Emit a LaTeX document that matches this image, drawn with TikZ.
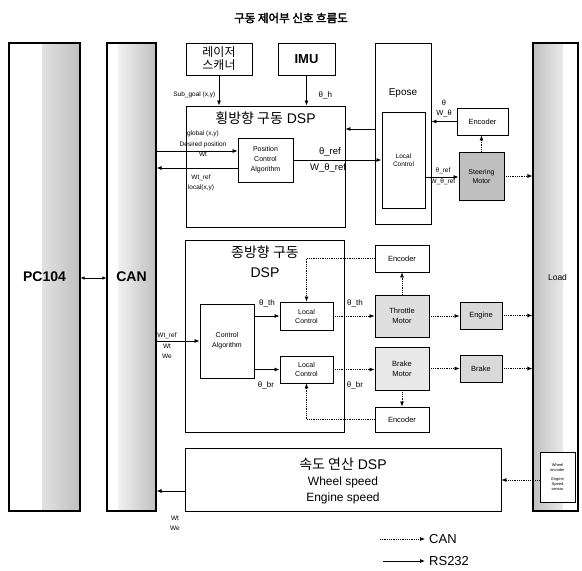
\documentclass[tikz,border=0pt]{standalone}
\usepackage{fontspec}
\setmainfont{Liberation Sans}
\newfontfamily\kr{Noto Sans CJK KR}
\newfontfamily\krb{Noto Sans CJK KR}[FakeBold=2.5]
\usetikzlibrary{arrows.meta,calc}
\begin{document}
\begin{tikzpicture}[x=1pt,y=-1pt,
  box/.style={draw, line width=0.9pt, fill=white, inner sep=1pt, align=center},
  motor/.style={box, fill=gray!30},
  panel/.style={draw, line width=1.1pt, inner sep=0pt, align=center},
  tiny/.style={font=\fontsize{6.5}{8}\selectfont, align=center, inner sep=0.5pt},
  lbl/.style={font=\fontsize{8}{9}\selectfont, align=center, inner sep=0.5pt},
  big/.style={font=\fontsize{14}{16}\selectfont, align=center, inner sep=0pt},
  arr/.style={-{Latex[length=5pt,width=4pt]}, line width=0.8pt},
  canl/.style={arr, densely dotted, line width=0.7pt},
  rshade/.style={path picture={\shade[left color=white,right color=gray!50]
      ([xshift=-38pt]path picture bounding box.north east) rectangle (path picture bounding box.south east);}},
  lshade/.style={path picture={\shade[left color=gray!50,right color=white]
      (path picture bounding box.north west) rectangle ([xshift=30pt]path picture bounding box.south west);}}
]
\fill[white] (0,0) rectangle (582,571);
\useasboundingbox (0,0) rectangle (582,571);

% title
\node[font=\krb\fontsize{11.5}{12}\selectfont] (title) at (291,18) {구동 제어부 신호 흐름도};

% tall panels
\node[panel, rshade, minimum width=71pt, minimum height=468pt, font=\bfseries\fontsize{14}{16}\selectfont] (pc) at (44.5,277) {PC104};
\node[panel, rshade, minimum width=49pt, minimum height=468pt, font=\bfseries\fontsize{14}{16}\selectfont] (can) at (131.5,277) {CAN};
\node[panel, lshade, minimum width=45pt, minimum height=468pt, font=\fontsize{8.5}{10}\selectfont] (load) at (555.5,277) {\hspace*{4pt}Load};

% top sources
\node[box, minimum width=66pt, minimum height=32pt, font=\kr\fontsize{12}{13}\selectfont] (laser) at (219,59) {레이저\\스캐너};
\node[box, minimum width=57pt, minimum height=32pt, font=\bfseries\fontsize{13}{14}\selectfont] (imu) at (306.5,59) {IMU};

% lateral DSP
\node[box, minimum width=159pt, minimum height=121pt] (latdsp) at (265.5,166.5) {};
\node[big] (latT) at (265.5,118) {{\kr 횡방향 구동} DSP};
\node[box, minimum width=55pt, minimum height=44pt, font=\fontsize{7}{10}\selectfont] (pca) at (265.5,160) {Position\\Control\\Algorithm};

% Epose
\node[box, minimum width=56pt, minimum height=181pt] (epose) at (403,133.5) {};
\node[font=\fontsize{10}{11}\selectfont] (eposeT) at (403,93) {Epose};
\node[box, minimum width=43pt, minimum height=96pt, font=\fontsize{6.5}{8}\selectfont] (lcE) at (403.5,160) {Local\\Control};
\node[box, minimum width=51pt, minimum height=27pt, font=\fontsize{7.5}{9}\selectfont] (encA) at (482.5,121.5) {Encoder};
\node[motor, fill=gray!50, minimum width=45pt, minimum height=48pt, font=\fontsize{7}{9}\selectfont] (steer) at (481.5,176) {Steering\\Motor};

% longitudinal DSP
\node[box, minimum width=159pt, minimum height=192pt] (londsp) at (264.5,336) {};
\node[big, font=\fontsize{14}{20}\selectfont] (lonT) at (265,262) {{\kr 종방향 구동}\\DSP};
\node[box, minimum width=54pt, minimum height=74pt, font=\fontsize{7}{10}\selectfont] (ca) at (227,341) {Control\\Algorithm};
\node[box, minimum width=53pt, minimum height=28pt, font=\fontsize{7}{9}\selectfont] (lc1) at (306.5,316) {Local\\Control};
\node[box, minimum width=53pt, minimum height=27pt, font=\fontsize{7}{9}\selectfont] (lc2) at (306.5,369.5) {Local\\Control};
\node[box, minimum width=54pt, minimum height=27pt, font=\fontsize{7.5}{9}\selectfont] (encB) at (402,258.5) {Encoder};
\node[motor, fill=gray!25, minimum width=54pt, minimum height=42pt, font=\fontsize{7.5}{10}\selectfont] (thr) at (402,316) {Throttle\\Motor};
\node[motor, fill=gray!18, minimum width=54pt, minimum height=43pt, font=\fontsize{7.5}{10}\selectfont] (brm) at (402,368.5) {Brake\\Motor};
\node[box, minimum width=54pt, minimum height=25pt, font=\fontsize{7.5}{9}\selectfont] (encC) at (402,419.5) {Encoder};
\node[motor, minimum width=42pt, minimum height=27pt, font=\fontsize{7.5}{9}\selectfont] (eng) at (481,315.5) {Engine};
\node[motor, minimum width=42pt, minimum height=27pt, font=\fontsize{7.5}{9}\selectfont] (brk) at (481,368.5) {Brake};

% speed DSP
\node[box, minimum width=316pt, minimum height=63pt] (spd) at (343,479.5) {};
\node[big] (spdT) at (343,464) {{\kr 속도 연산} DSP};
\node[font=\fontsize{12}{16}\selectfont, align=center, inner sep=0pt] (spdL) at (343,490) {Wheel speed\\Engine speed};
\node[box, minimum width=35pt, minimum height=50pt, font=\fontsize{4}{4.8}\selectfont] (sens) at (557.5,477) {Wheel\\encoder\\[4pt]Engine\\Speed\\sensor};

% y-levels
\coordinate (ya) at (0,151);
\coordinate (yb) at (0,168);
\coordinate (yc) at (0,129);
\coordinate (yd) at (0,177);
\coordinate (ye) at (0,491);
\coordinate (yf) at (0,480);
\coordinate (yg) at (0,278);

% connectors: top
\draw[arr] (laser.south) -- (laser.south |- latdsp.north);
\draw[arr] (imu.south) -- (imu.south |- latdsp.north);
\node[tiny, anchor=east] (lsub) at (216,95) {Sub\_goal (x,y)};
\node[lbl, anchor=west] (lth) at (318,95) {θ\_h};

% lateral
\draw[arr] (can.east |- ya) -- (pca.west |- ya);
\draw[arr] (pca.west |- yb) -- (can.east |- yb);
\node[tiny, font=\fontsize{6.5}{10.5}\selectfont] (lglob) at (203,144) {global (x,y)\\Desired position\\Wt};
\node[tiny, font=\fontsize{6.5}{10.5}\selectfont] (lwtr) at (201,183) {Wt\_ref\\local(x,y)};
\draw[arr, line width=1pt] (pca.east) -- (lcE.west);
\node[lbl, font=\fontsize{9.5}{10}\selectfont] (lthr1) at (330,152) {θ\_ref};
\node[lbl, font=\fontsize{9.5}{10}\selectfont] (lwthr1) at (328,168) {W\_θ\_ref};
\draw[arr] (epose.west |- yc) -- (latdsp.east |- yc);
\draw[arr] (encA.west) -- (encA.west -| epose.east);
\node[lbl, font=\fontsize{7.5}{10}\selectfont] (lthe) at (444,109) {θ\\W\_θ};
\draw[arr] (lcE.east |- yd) -- (steer.west |- yd);
\node[tiny, font=\fontsize{6.5}{11}\selectfont] (lthr2) at (443,176) {θ\_ref\\W\_θ\_ref};
\draw[canl] (steer.east) -- (steer.east -| load.west);
\draw[canl] (steer.north) -- (steer.north |- encA.south);

% longitudinal
\draw[arr] (can.east |- ca.west) -- (ca.west);
\node[tiny, font=\fontsize{6.5}{10.5}\selectfont] (lwt2) at (167,346) {Wt\_ref\\Wt\\We};
\draw[arr] (ca.east |- lc1.west) -- (lc1.west);
\draw[arr] (ca.east |- lc2.west) -- (lc2.west);
\node[lbl] (lth1) at (267,303) {θ\_th};
\node[lbl] (lbr1) at (266,385) {θ\_br};
\draw[canl] (lc1.east) -- (lc1.east -| thr.west);
\draw[canl] (lc2.east) -- (lc2.east -| brm.west);
\node[lbl] (lth2) at (355,303) {θ\_th};
\node[lbl] (lbr2) at (355,385) {θ\_br};
\draw[canl] (thr.north) -- (encB.south);
\draw[canl] (encB.west) -| (lc1.north);
\draw[canl] (brm.south) -- (encC.north);
\draw[canl] (encC.west) -| (lc2.south);
\draw[canl] (thr.east) -- (thr.east -| eng.west);
\draw[canl] (eng.east) -- (eng.east -| load.west);
\draw[canl] (brm.east) -- (brm.east -| brk.west);
\draw[canl] (brk.east) -- (brk.east -| load.west);

% speed
\draw[arr] (spd.west |- ye) -- (can.east |- ye);
\node[tiny, font=\fontsize{6.5}{10}\selectfont] (lwt3) at (175,523) {Wt\\We};
\draw[canl] (sens.west |- yf) -- (spd.east |- yf);

% PC104 <-> CAN
\draw[{Latex[length=4pt,width=3.5pt]}-{Latex[length=4pt,width=3.5pt]}, line width=0.8pt] (pc.east |- yg) -- (can.west |- yg);

% legend
\coordinate (lgA1) at (380,539);
\coordinate (lgA2) at (425,539);
\coordinate (lgB1) at (383,561);
\coordinate (lgB2) at (425,561);
\draw[canl] (lgA1) -- (lgA2);
\draw[arr] (lgB1) -- (lgB2);
\node[anchor=west, font=\fontsize{13}{14}\selectfont, inner sep=0pt] (lgA) at (429,539) {CAN};
\node[anchor=west, font=\fontsize{13}{14}\selectfont, inner sep=0pt] (lgB) at (429,561) {RS232};
\end{tikzpicture}
\end{document}
